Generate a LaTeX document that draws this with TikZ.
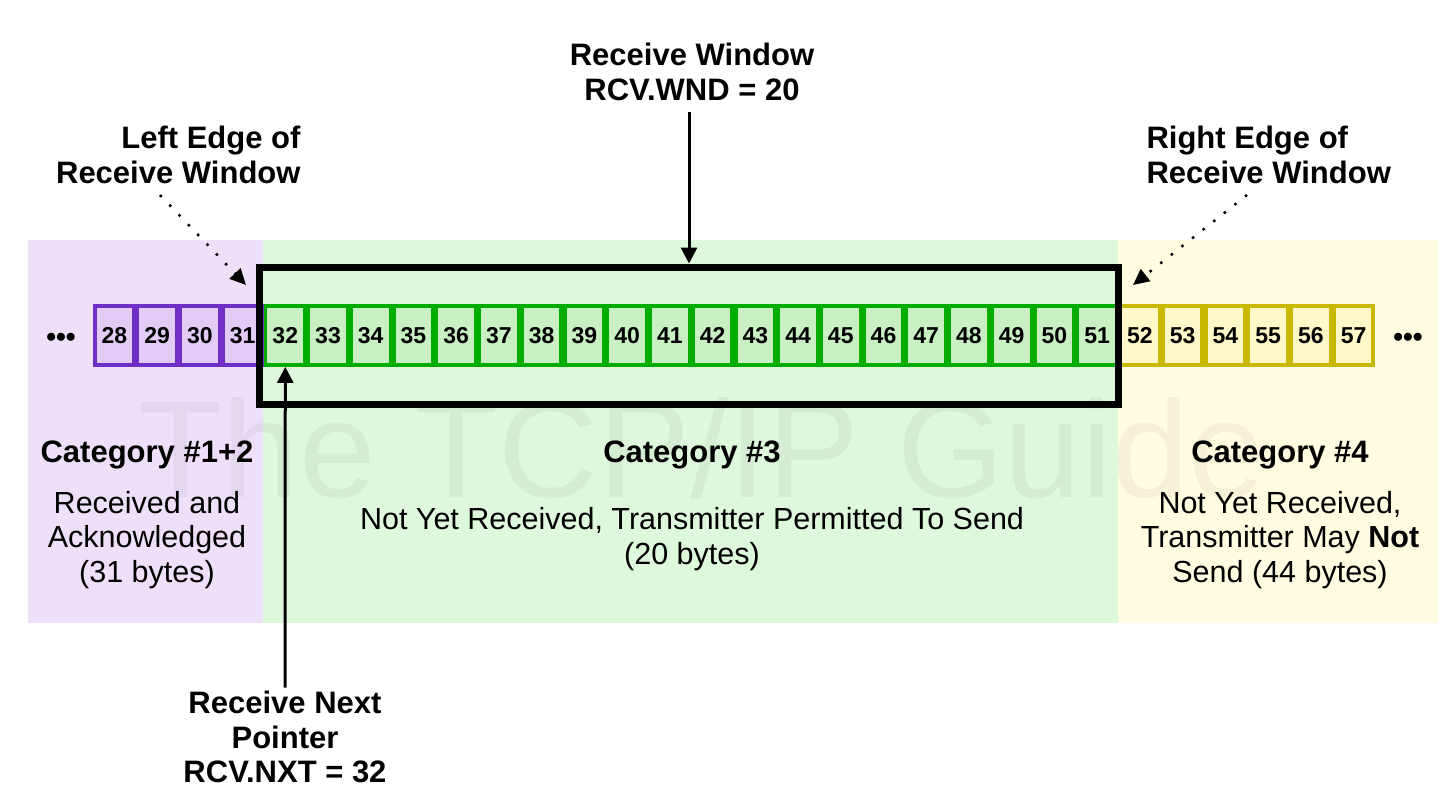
\documentclass[tikz,border=0pt]{standalone}
\usepackage{fontspec}
\setmainfont{Liberation Sans}
\usetikzlibrary{arrows.meta}
\definecolor{pbg}{RGB}{238,224,250}
\definecolor{pcell}{RGB}{226,204,246}
\definecolor{pline}{RGB}{112,48,200}
\definecolor{gbg}{RGB}{222,248,220}
\definecolor{gcell}{RGB}{200,240,195}
\definecolor{gline}{RGB}{0,172,0}
\definecolor{ybg}{RGB}{255,252,226}
\definecolor{ycell}{RGB}{255,248,200}
\definecolor{yline}{RGB}{200,185,0}
\tikzset{
  cellbox/.style={draw, line width=3.8pt, inner sep=0pt, minimum width=39.4pt, minimum height=59pt,
    font=\fontsize{23}{26}\selectfont\bfseries},
  lbl/.style={align=center, font=\fontsize{31}{34.5}\selectfont\bfseries},
  txt/.style={align=center, font=\fontsize{30.5}{34.5}\selectfont},
  solidarrow/.style={line width=3pt, -{Triangle[width=16pt,length=16pt]}},
  dotarrow/.style={line width=2.5pt, dash pattern=on 2.5pt off 11pt, -{Triangle[width=15pt,length=16pt]}},
}
\begin{document}
\begin{tikzpicture}[x=1pt,y=-1pt]
\useasboundingbox (0,0) rectangle (1453,795);
% backgrounds
\fill[pbg] (28,240) rectangle (263,623);
\fill[gbg] (263,240) rectangle (1118,623);
\fill[ybg] (1118,240) rectangle (1438,623);
% watermark
\node[font=\fontsize{138}{140}\selectfont, text=black, text opacity=0.045, inner sep=0pt] (wm) at (702,448) {The TCP/IP Guide};
% cells
\foreach \i in {28,...,31} {
  \pgfmathsetmacro\cx{93+(\i-28+0.5)*42.73}
  \node[cellbox, draw=pline, fill=pcell] (c\i) at (\cx,335.5) {\i};
}
\foreach \i in {32,...,51} {
  \pgfmathsetmacro\cx{93+(\i-28+0.5)*42.73}
  \node[cellbox, draw=gline, fill=gcell] (c\i) at (\cx,335.5) {\i};
}
\foreach \i in {52,...,57} {
  \pgfmathsetmacro\cx{93+(\i-28+0.5)*42.73}
  \node[cellbox, draw=yline, fill=ycell] (c\i) at (\cx,335.5) {\i};
}
% ellipses
\node[font=\fontsize{28}{30}\selectfont\bfseries] (dl) at (61,340) {•••};
\node[font=\fontsize{28}{30}\selectfont\bfseries] (dr) at (1408,340) {•••};
% receive window box
\node[draw, line width=7pt, inner sep=0pt, minimum width=859pt, minimum height=137pt] (win) at (689,335.5) {};
% labels
\node[lbl] (rw) at (692,72) {Receive Window\\RCV.WND = 20};
\node[lbl, align=right, anchor=east] (le) at (304,155) {Left Edge of\\Receive Window};
\node[lbl, align=left, anchor=west] (re) at (1143,155) {Right Edge of\\Receive Window};
\node[lbl] (rnp) at (285,737) {Receive Next\\Pointer\\RCV.NXT = 32};
% categories
\node[lbl] (cat12) at (147,455) {Category \#1+2};
\node[txt] (d12) at (147,540) {Received and\\Acknowledged\\(31 bytes)};
\node[lbl] (cat3) at (692,455) {Category \#3};
\node[txt] (d3) at (692,539) {Not Yet Received, Transmitter Permitted To Send\\(20 bytes)};
\node[lbl] (cat4) at (1280,455) {Category \#4};
\node[txt] (d4) at (1280,540) {Not Yet Received,\\Transmitter May \textbf{Not}\\Send (44 bytes)};
% connectors
\coordinate (lefttip) at (246,285);
\coordinate (righttip) at (1133,285);
\coordinate (lestart) at (160,195);
\coordinate (restart) at (1247,195);
\draw[solidarrow, shorten <=8pt] (rw.south -| win.north) -- (win.north);
\draw[solidarrow] (rnp.north) -- (c32.south);
\draw[dotarrow] (lestart) -- (lefttip);
\draw[dotarrow] (restart) -- (righttip);
\end{tikzpicture}
\end{document}
